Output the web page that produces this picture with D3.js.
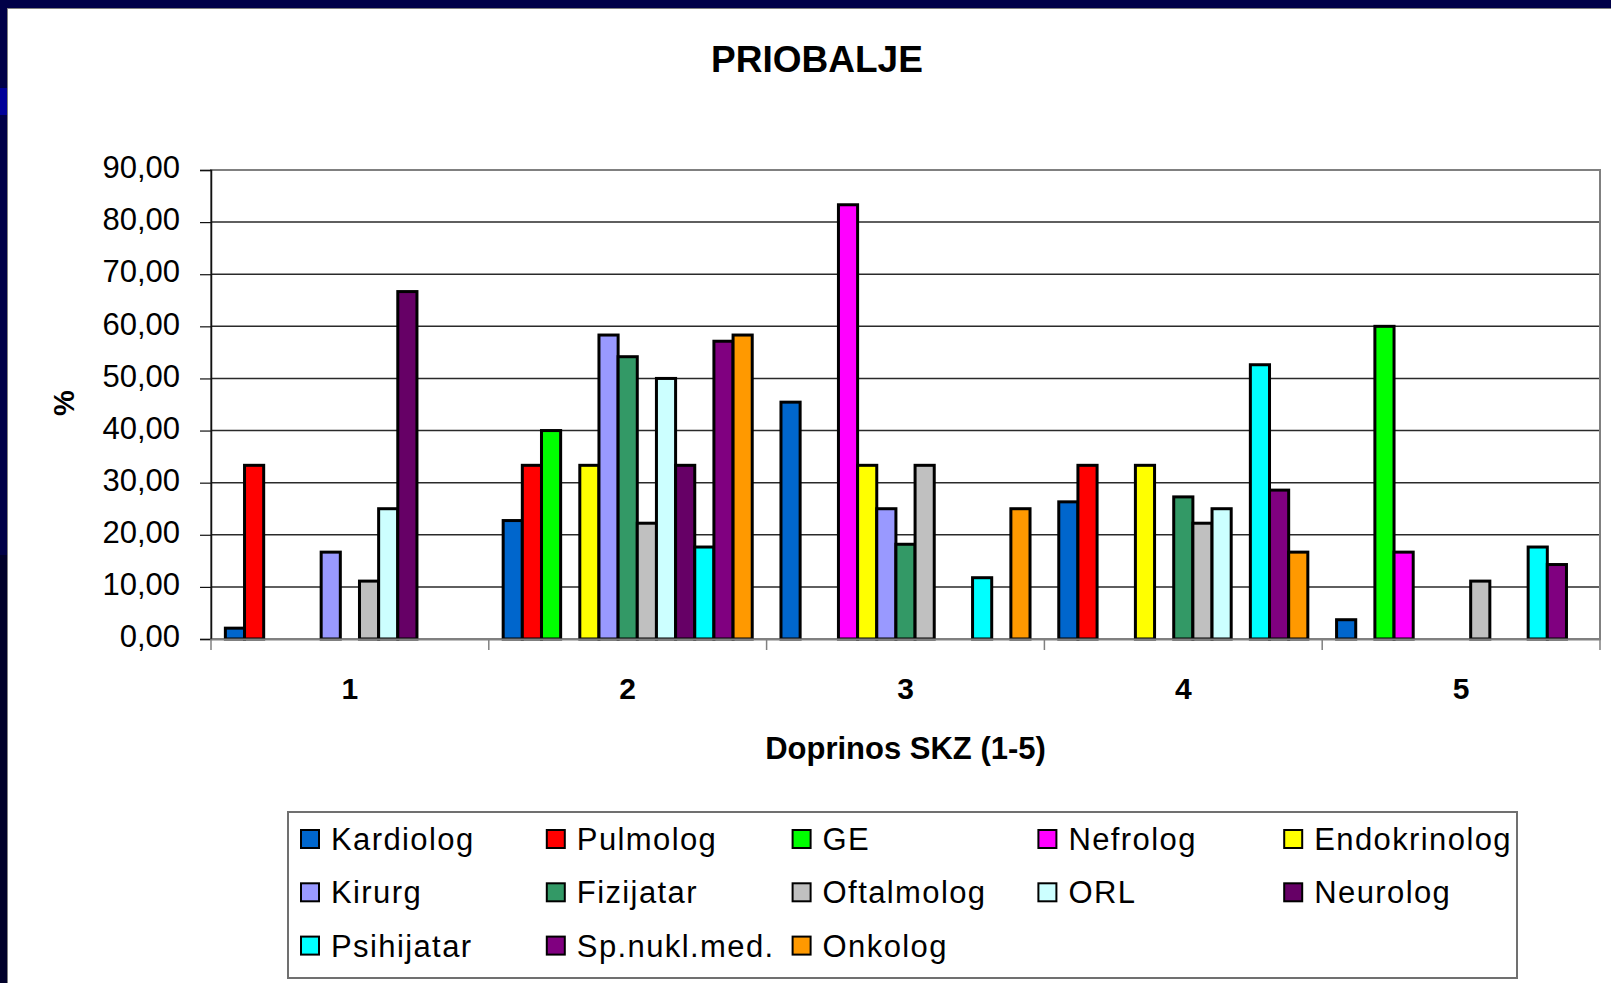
<!DOCTYPE html>
<html>
<head>
<meta charset="utf-8">
<script src="https://cdn.jsdelivr.net/npm/d3@7"></script>
<style>
  html, body { margin: 0; padding: 0; background: #000048; }
  svg { display: block; font-family: 'Liberation Sans', Arial, sans-serif; }
</style>
</head>
<body>
<div id="chart"></div>
<script>
const W = 1611;
const H = 983;

// plot area
const LEFT = 211;
const RIGHT = 1600;
const TOP = 170;
const BOTTOM = 639;

const categories = ['1', '2', '3', '4', '5'];
const yTicks = [0, 10, 20, 30, 40, 50, 60, 70, 80, 90];

const seriesNames = ['Kardiolog', 'Pulmolog', 'GE', 'Nefrolog', 'Endokrinolog', 'Kirurg', 'Fizijatar',
  'Oftalmolog', 'ORL', 'Neurolog', 'Psihijatar', 'Sp.nukl.med.', 'Onkolog'];
const seriesColors = ['#0066CC', '#FF0000', '#00FF00', '#FF00FF', '#FFFF00', '#9999FF', '#339966',
  '#C0C0C0', '#CCFFFF', '#660066', '#00FFFF', '#800080', '#FF9900'];

// % per category 1..5
const kardiolog = [2.08, 22.73, 45.45, 26.32, 3.70];
const pulmolog = [33.33, 33.33, 0, 33.33, 0];
const ge = [0, 40.00, 0, 0, 60.00];
const nefrolog = [0, 0, 83.33, 0, 16.67];
const endokrinolog = [0, 33.33, 33.33, 33.33, 0];
const kirurg = [16.67, 58.33, 25.00, 0, 0];
const fizijatar = [0, 54.17, 18.18, 27.27, 0];
const oftalmolog = [11.11, 22.22, 33.33, 22.22, 11.11];
const orl = [25.00, 50.00, 0, 25.00, 0];
const neurolog = [66.67, 33.33, 0, 0, 0];
const psihijatar = [0, 17.65, 11.76, 52.63, 17.65];
const spNuklMed = [0, 57.14, 0, 28.57, 14.29];
const onkolog = [0, 58.33, 25.00, 16.67, 0];

const seriesValues = [kardiolog, pulmolog, ge, nefrolog, endokrinolog, kirurg, fizijatar,
  oftalmolog, orl, neurolog, psihijatar, spNuklMed, onkolog];

const bars = [];
seriesNames.forEach((name, s) => {
  categories.forEach((cat, c) => {
    if (seriesValues[s][c] > 0) bars.push({ name: name, color: seriesColors[s], cat: cat, value: seriesValues[s][c] });
  });
});

const svg = d3.select('#chart')
  .append('svg')
  .attr('width', W)
  .attr('height', H);

// slide frame
svg.append('rect').attr('x', 0).attr('y', 0).attr('width', W).attr('height', H).attr('fill', '#000048');
svg.append('rect').attr('x', 0).attr('y', 88).attr('width', 8).attr('height', 27).attr('fill', '#000099');
svg.append('rect').attr('x', 0).attr('y', 555).attr('width', 8).attr('height', H - 555).attr('fill', '#00002a');
svg.append('rect')
  .attr('x', 7.5).attr('y', 8.5)
  .attr('width', W - 7).attr('height', H - 8)
  .attr('fill', 'white')
  .attr('stroke', '#808080')
  .attr('stroke-width', 1);

const x0 = d3.scaleBand().domain(categories).range([LEFT, RIGHT]);
const x1 = d3.scaleBand().domain(seriesNames).range([0, x0.bandwidth()]).paddingInner(0).paddingOuter(0.75);
const y = d3.scaleLinear().domain([0, 90]).range([BOTTOM, TOP]);

// gridlines
svg.append('g')
  .selectAll('line')
  .data(yTicks.filter(d => d > 0 && d < 90))
  .enter()
  .append('line')
  .attr('x1', LEFT).attr('x2', RIGHT)
  .attr('y1', d => y(d)).attr('y2', d => y(d))
  .attr('stroke', '#2a2a2a')
  .attr('stroke-width', 1.5);

// plot border
svg.append('rect')
  .attr('x', LEFT).attr('y', TOP)
  .attr('width', RIGHT - LEFT).attr('height', BOTTOM - TOP)
  .attr('fill', 'none')
  .attr('stroke', '#808080')
  .attr('stroke-width', 2);

// bars
svg.append('g')
  .selectAll('rect')
  .data(bars)
  .enter()
  .append('rect')
  .attr('x', d => x0(d.cat) + x1(d.name))
  .attr('y', d => y(d.value))
  .attr('width', x1.bandwidth())
  .attr('height', d => y(0) - y(d.value))
  .attr('fill', d => d.color)
  .attr('stroke', 'black')
  .attr('stroke-width', 3);

// y axis
const yAxis = svg.append('g')
  .attr('transform', `translate(${LEFT},0)`)
  .call(d3.axisLeft(y).tickValues(yTicks).tickSize(11).tickPadding(20)
    .tickFormat(d => d3.format('.2f')(d).replace('.', ',')));
yAxis.select('.domain').attr('stroke', '#111').attr('stroke-width', 1.5);
yAxis.selectAll('.tick line').attr('stroke', '#111').attr('stroke-width', 1.2);
yAxis.selectAll('.tick text')
  .attr('font-size', 31)
  .attr('font-family', "'Liberation Sans', Arial, sans-serif")
  .attr('fill', 'black')
  .attr('dy', '0.25em');

// x axis
const xAxis = svg.append('g')
  .attr('transform', `translate(0,${BOTTOM})`)
  .call(d3.axisBottom(x0).tickSize(0).tickPadding(39));
xAxis.select('.domain').attr('stroke', '#808080').attr('stroke-width', 2);
xAxis.selectAll('.tick text')
  .attr('font-size', 30)
  .attr('font-weight', 'bold')
  .attr('font-family', "'Liberation Sans', Arial, sans-serif")
  .attr('fill', 'black');

// category separators
svg.append('g')
  .selectAll('line')
  .data(categories.concat(['end']))
  .enter()
  .append('line')
  .attr('x1', (d, i) => LEFT + i * x0.step())
  .attr('x2', (d, i) => LEFT + i * x0.step())
  .attr('y1', BOTTOM)
  .attr('y2', BOTTOM + 11)
  .attr('stroke', '#808080')
  .attr('stroke-width', 1.5);

// titles
svg.append('text')
  .text('PRIOBALJE')
  .attr('x', 817)
  .attr('y', 72)
  .attr('text-anchor', 'middle')
  .attr('font-size', 37)
  .attr('font-weight', 'bold');

svg.append('text')
  .text('Doprinos SKZ (1-5)')
  .attr('x', (LEFT + RIGHT) / 2)
  .attr('y', 759)
  .attr('text-anchor', 'middle')
  .attr('font-size', 31)
  .attr('font-weight', 'bold');

svg.append('text')
  .text('%')
  .attr('transform', 'translate(74,403) rotate(-90)')
  .attr('text-anchor', 'middle')
  .attr('font-size', 29)
  .attr('font-weight', 'bold');

// legend
const legend = svg.append('g');
legend.append('rect')
  .attr('x', 288).attr('y', 812)
  .attr('width', 1229).attr('height', 166)
  .attr('fill', 'white')
  .attr('stroke', '#707070')
  .attr('stroke-width', 2);

const COL_W = 245.8;
const ROW_H = 53.3;
const items = legend.selectAll('g.item')
  .data(seriesNames)
  .enter()
  .append('g')
  .attr('class', 'item')
  .attr('transform', (d, i) => `translate(${301 + (i % 5) * COL_W},${830 + Math.floor(i / 5) * ROW_H})`);

items.append('rect')
  .attr('x', 0).attr('y', 0)
  .attr('width', 18).attr('height', 18)
  .attr('fill', (d, i) => seriesColors[i])
  .attr('stroke', 'black')
  .attr('stroke-width', 2);

items.append('text')
  .text(d => d)
  .attr('x', 30)
  .attr('y', 20)
  .attr('font-size', 31)
  .attr('letter-spacing', 1.4)
  .attr('fill', 'black');
</script>
</body>
</html>
